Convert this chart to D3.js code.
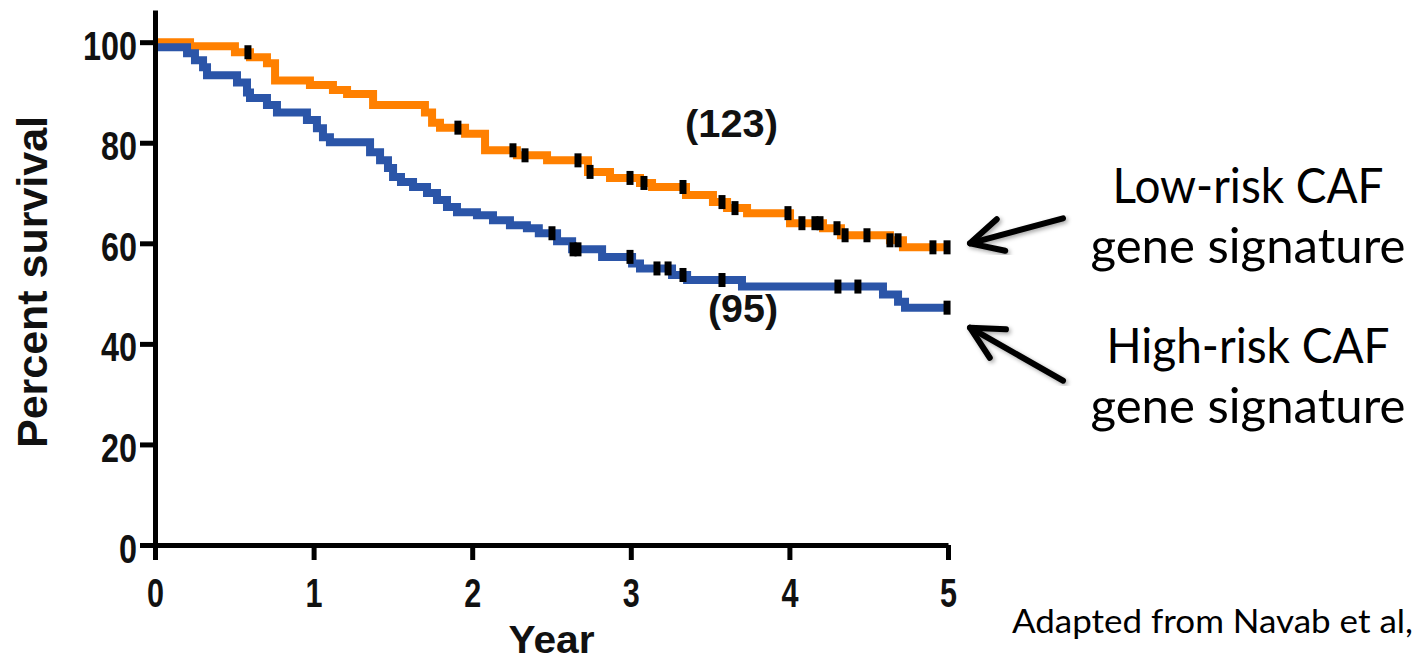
<!DOCTYPE html>
<html>
<head>
<meta charset="utf-8">
<script src="https://cdn.jsdelivr.net/npm/d3@7"></script>
<style>
body { margin: 0; background: #fff; }
.axis path, .axis line { stroke: #000; stroke-width: 5; }
.axis text { font-family: "Liberation Sans", Arial, sans-serif; font-weight: bold; font-size: 40px; fill: #111; }
.label { font-family: "Liberation Sans", Arial, sans-serif; font-weight: bold; fill: #111; }
.note { font-family: Lato, "Open Sans", sans-serif; fill: #000; }
</style>
</head>
<body>
<svg id="chart"></svg>
<script>
const w = 1416, h = 660;

// axes
const yearTicks = [0, 1, 2, 3, 4, 5];
const percentTicks = [0, 20, 40, 60, 80, 100];

// low-risk CAF signature (n = 123), Kaplan-Meier steps
const lowTime = [0, 0.221, 0.504, 0.599, 0.706, 0.757, 0.977, 1.122, 1.211, 1.375, 1.702, 1.747, 1.797, 1.955,
  2.081, 2.282, 2.472, 2.730, 2.869, 3.058, 3.134, 3.348, 3.518, 3.607, 3.733, 4.004, 4.212, 4.325, 4.634, 4.716];
const lowSurv = [100, 99.2, 98, 97, 95.8, 92.4, 91.5, 90.5, 89.7, 87.5, 86, 84, 83, 81.8,
  78.5, 77.5, 76.5, 74.2, 73, 72, 71.2, 69.6, 68.2, 67, 66, 64, 63, 61.6, 60.6, 59.2];
const lowCensor = [0.586, 1.910, 2.257, 2.333, 2.667, 2.743, 2.995, 3.083, 3.329, 3.575, 3.657, 3.991, 4.079,
  4.161, 4.193, 4.300, 4.351, 4.489, 4.634, 4.685, 4.905, 4.994];

// high-risk CAF signature (n = 95)
const highTime = [0, 0.202, 0.252, 0.303, 0.328, 0.517, 0.580, 0.599, 0.706, 0.769, 0.958, 1.021, 1.059, 1.103,
  1.356, 1.419, 1.469, 1.501, 1.551, 1.627, 1.715, 1.778, 1.841, 1.904, 2.030, 2.131, 2.238, 2.345, 2.420, 2.535,
  2.630, 2.819, 3.008, 3.058, 3.260, 3.355, 3.701, 4.590, 4.685, 4.729];
const highSurv = [99, 97.8, 96.4, 95, 93.4, 92, 90, 88.9, 87.5, 86, 84.5, 82.9, 81.1, 80.1,
  78.1, 76.5, 75, 73.2, 72.2, 71.2, 70, 68.6, 67.2, 66.2, 65.6, 64.6, 63.6, 63, 62, 60.4,
  58.8, 57.3, 56, 55, 53.7, 52.7, 51.4, 49.8, 48.4, 47.2];
const highCensor = [2.503, 2.636, 2.667, 2.995, 3.165, 3.235, 3.329, 3.575, 4.306, 4.432, 4.994];

const lowColor = "#ff8000", highColor = "#2b55a8";

const x = d3.scaleLinear().domain([0, 5]).range([155, 948]);
const y = d3.scaleLinear().domain([0, 106.4]).range([545, 10]);

const svg = d3.select("#chart")
    .attr("width", w)
    .attr("height", h)
    .attr("viewBox", [0, 0, w, h]);

svg.append("defs").append("filter")
    .attr("id", "shadow")
    .append("feDropShadow")
    .attr("dx", 2).attr("dy", 2).attr("stdDeviation", 2)
    .attr("flood-opacity", 0.35);

const stepValue = (times, surv, t) => surv[d3.bisectRight(times, t) - 1];

const line = d3.line()
    .x(d => x(d[0]))
    .y(d => y(d[1]))
    .curve(d3.curveStepAfter);

const drawCurve = (times, surv, color) => {
    const pts = times.map((t, i) => [t, surv[i]]);
    pts.push([5, surv[surv.length - 1]]);
    svg.append("path")
        .attr("d", line(pts))
        .attr("fill", "none")
        .attr("stroke", color)
        .attr("stroke-width", 8);
};

const drawCensor = (times, surv, censor) => {
    svg.append("g")
        .selectAll("rect")
        .data(censor)
        .join("rect")
        .attr("x", d => x(d) - 3.5)
        .attr("y", d => y(stepValue(times, surv, d)) - 7)
        .attr("width", 7)
        .attr("height", 14)
        .attr("fill", "#000");
};

drawCurve(lowTime, lowSurv, lowColor);
drawCurve(highTime, highSurv, highColor);
drawCensor(lowTime, lowSurv, lowCensor);
drawCensor(highTime, highSurv, highCensor);

// axes
const xAxis = svg.append("g")
    .attr("class", "axis")
    .attr("transform", `translate(0, ${y(0)})`)
    .call(d3.axisBottom(x).tickValues(yearTicks).tickFormat(d3.format("d")).tickSize(15).tickSizeOuter(0));
xAxis.selectAll("text")
    .attr("y", 62).attr("dy", 0)
    .attr("textLength", 17)
    .attr("lengthAdjust", "spacingAndGlyphs");

const yAxis = svg.append("g")
    .attr("class", "axis")
    .attr("transform", `translate(${x(0)}, 0)`)
    .call(d3.axisLeft(y).tickValues(percentTicks).tickFormat(d3.format("d")).tickSize(15).tickSizeOuter(0));
yAxis.selectAll("text")
    .attr("x", -18).attr("y", 17).attr("dy", 0)
    .attr("textLength", d => String(d).length * 18)
    .attr("lengthAdjust", "spacingAndGlyphs");

svg.append("text")
    .attr("class", "label")
    .attr("x", (x(0) + x(5)) / 2)
    .attr("y", 653)
    .attr("text-anchor", "middle")
    .attr("font-size", 38)
    .attr("textLength", 86)
    .attr("lengthAdjust", "spacingAndGlyphs")
    .text("Year");

svg.append("text")
    .attr("class", "label")
    .attr("transform", "translate(47, 282) rotate(-90)")
    .attr("text-anchor", "middle")
    .attr("font-size", 42)
    .attr("textLength", 332)
    .attr("lengthAdjust", "spacingAndGlyphs")
    .text("Percent survival");

// group sizes
svg.append("text")
    .attr("class", "label")
    .attr("x", 685).attr("y", 137)
    .attr("font-size", 38)
    .attr("textLength", 93)
    .attr("lengthAdjust", "spacingAndGlyphs")
    .text("(123)");

svg.append("text")
    .attr("class", "label")
    .attr("x", 708).attr("y", 322)
    .attr("font-size", 38)
    .attr("textLength", 70)
    .attr("lengthAdjust", "spacingAndGlyphs")
    .text("(95)");

// arrows pointing at curve ends
const arrow = (tip, dx, dy) => {
    const g = svg.append("g")
        .attr("fill", "none")
        .attr("stroke", "#000")
        .attr("stroke-width", 6)
        .attr("stroke-linecap", "round")
        .attr("stroke-linejoin", "round")
        .attr("filter", "url(#shadow)");
    const ang = Math.atan2(dy, dx), a = 27 * Math.PI / 180, len = 36;
    g.append("line")
        .attr("x1", tip[0]).attr("y1", tip[1])
        .attr("x2", tip[0] + dx).attr("y2", tip[1] + dy);
    g.append("polyline")
        .attr("points", [
            [tip[0] + len * Math.cos(ang - a), tip[1] + len * Math.sin(ang - a)],
            tip,
            [tip[0] + len * Math.cos(ang + a), tip[1] + len * Math.sin(ang + a)]
        ].map(p => p.join(",")).join(" "));
};

arrow([x(5) + 22, y(lowSurv[lowSurv.length - 1]) - 4], 93, -25);
arrow([x(5) + 22, y(highSurv[highSurv.length - 1]) + 20], 93, 53);

const notes = [
    { text: "Low-risk CAF", y: 203, len: 271 },
    { text: "gene signature", y: 263, len: 315 },
    { text: "High-risk CAF", y: 363, len: 283 },
    { text: "gene signature", y: 423, len: 315 }
];

svg.append("g")
    .selectAll("text")
    .data(notes)
    .join("text")
    .attr("class", "note")
    .attr("x", 1248)
    .attr("y", d => d.y)
    .attr("text-anchor", "middle")
    .attr("font-size", 49)
    .attr("textLength", d => d.len)
    .attr("lengthAdjust", "spacingAndGlyphs")
    .text(d => d.text);

svg.append("text")
    .attr("class", "note")
    .attr("x", 1012).attr("y", 633)
    .attr("font-size", 32)
    .attr("textLength", 401)
    .attr("lengthAdjust", "spacingAndGlyphs")
    .text("Adapted from Navab et al,");
</script>
</body>
</html>
